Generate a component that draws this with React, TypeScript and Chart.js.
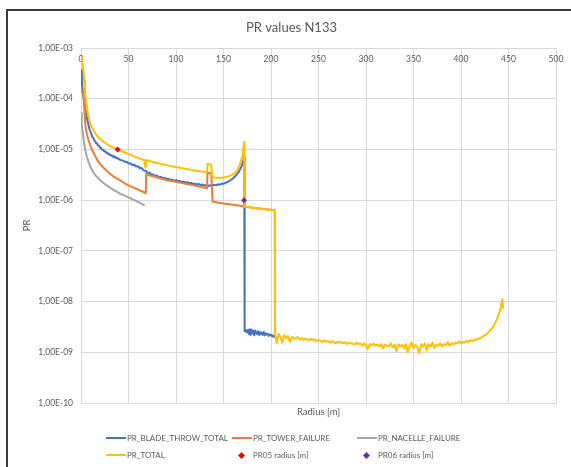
import React, { useEffect, useRef } from 'react';
import { Chart, registerables } from 'chart.js';

Chart.register(...registerables);

const FONT = 'Lato, "Open Sans", sans-serif';
const TEXT = '#595959';
const GRID = '#D9D9D9';

const chartTitle = 'PR values N133';
const xTitle = 'Radius [m]';
const yTitle = 'PR';

const xTickValues = [0, 50, 100, 150, 200, 250, 300, 350, 400, 450, 500];
const xTickLabels = ['0', '50', '100', '150', '200', '250', '300', '350', '400', '450', '500'];
const yTickValues = [1e-10, 1e-9, 1e-8, 1e-7, 1e-6, 1e-5, 1e-4, 1e-3];
const yTickLabels = ['1,00E-10', '1,00E-09', '1,00E-08', '1,00E-07', '1,00E-06', '1,00E-05', '1,00E-04', '1,00E-03'];

const seriesLabels = ['PR_BLADE_THROW_TOTAL', 'PR_TOWER_FAILURE', 'PR_NACELLE_FAILURE', 'PR_TOTAL', 'PR05 radius [m]', 'PR06 radius [m]'];
const seriesColors = ['#4472C4', '#ED7D31', '#A5A5A5', '#FFC000', '#FF0000', '#7030A0'];

const bladeX = [
  0, 1, 2, 3, 4, 5, 6, 7, 8, 9, 10, 11, 12, 13, 14, 15, 16, 17, 18, 19, 20,
  21, 22, 23, 24, 25, 26, 27, 28, 29, 30, 31, 32, 33, 34, 35, 36, 37, 38, 39, 40,
  42, 44, 46, 48, 50, 52, 54, 56, 58, 60, 62, 64, 66, 68, 70, 72, 74, 76, 78, 80,
  82, 84, 86, 88, 90, 92, 94, 96, 98, 100, 102, 104, 106, 108, 110, 112, 114, 116, 118, 120,
  122, 124, 126, 128, 130, 132, 134, 136, 138, 140, 142, 144, 146, 148, 150, 152, 154, 156, 158, 160,
  162, 164, 166, 168, 169, 170, 171, 171.8, 172,
  172.5, 173.5, 174.5, 175.5, 176.5, 177.5, 178.5, 179.5, 180.5, 181.5, 182.5, 183.5, 184.5, 185.5, 186.5, 187.5,
  188.5, 189.5, 190.5, 191.5, 192.5, 193.5, 194.5, 195.5, 196.5, 197.5, 198.5, 199.5, 200.5, 201.5, 202.5, 203.5,
  204,
];
const bladeY = [
  3.7e-4, 2.0e-4, 1.35e-4, 9.8e-5, 7.6e-5, 5.8e-5, 4.4e-5, 3.6e-5, 3.0e-5, 2.5e-5, 2.2e-5,
  2.0e-5, 1.75e-5, 1.68e-5, 1.5e-5, 1.45e-5, 1.32e-5, 1.3e-5, 1.2e-5, 1.18e-5, 1.08e-5,
  1.07e-5, 1.0e-5, 9.9e-6, 9.3e-6, 9.3e-6, 8.7e-6, 8.8e-6, 8.2e-6, 8.3e-6, 7.8e-6,
  7.9e-6, 7.5e-6, 7.6e-6, 7.1e-6, 7.3e-6, 6.9e-6, 7.0e-6, 6.6e-6, 6.7e-6, 6.4e-6,
  6.15e-6, 6.05e-6, 5.7e-6, 5.7e-6, 5.3e-6, 5.35e-6, 4.95e-6, 5.0e-6, 4.6e-6, 4.65e-6,
  4.25e-6, 4.3e-6, 3.85e-6, 3.8e-6, 3.45e-6, 3.5e-6, 3.2e-6, 3.2e-6, 2.98e-6, 3.05e-6,
  2.8e-6, 2.88e-6, 2.68e-6, 2.75e-6, 2.58e-6, 2.65e-6, 2.5e-6, 2.55e-6, 2.42e-6, 2.48e-6,
  2.35e-6, 2.4e-6, 2.27e-6, 2.33e-6, 2.2e-6, 2.26e-6, 2.13e-6, 2.2e-6, 2.07e-6, 2.13e-6,
  2.02e-6, 2.08e-6, 1.97e-6, 2.03e-6, 1.93e-6, 1.99e-6, 1.9e-6, 1.97e-6, 1.92e-6, 2.0e-6,
  1.96e-6, 2.05e-6, 2.02e-6, 2.1e-6, 2.1e-6, 2.2e-6, 2.25e-6, 2.38e-6, 2.52e-6, 2.68e-6,
  2.92e-6, 3.2e-6, 3.6e-6, 4.2e-6, 4.7e-6, 5.3e-6, 6.2e-6, 7.0e-6, 2.7e-9,
  2.6e-9, 2.7e-9, 2.5e-9, 2.75e-9, 2.3e-9, 2.85e-9, 2.2e-9, 2.8e-9, 2.35e-9, 2.65e-9, 2.15e-9, 2.7e-9, 2.4e-9, 2.3e-9, 2.6e-9, 2.2e-9,
  2.5e-9, 2.3e-9, 2.45e-9, 2.2e-9, 2.5e-9, 2.15e-9, 2.35e-9, 2.25e-9, 2.3e-9, 2.1e-9, 2.25e-9, 2.15e-9, 2.2e-9, 2.05e-9, 2.15e-9, 2.0e-9,
  2.1e-9,
];

const towerX = [
  0, 1, 2, 2.6, 3.2, 4.2, 5, 6, 7.5, 9.5, 12, 14, 17, 20, 24, 27, 30, 34, 38, 42,
  47, 51.6, 56, 60, 64, 67.4, 68.2, 68.6, 72, 76, 83, 90, 97, 104, 110, 116, 122, 128, 132.6, 133.2,
  137.2, 138.4, 145, 150, 160, 168, 175, 185, 195, 203.8,
];
const towerY = [
  1.4e-4, 1.38e-4, 1.32e-4, 1.25e-4, 7.5e-5, 3.6e-5, 2.7e-5, 2.1e-5, 1.6e-5, 1.25e-5,
  9.5e-6, 8.0e-6, 6.3e-6, 5.2e-6, 4.3e-6, 3.8e-6, 3.4e-6, 2.95e-6, 2.65e-6, 2.4e-6,
  2.1e-6, 1.88e-6, 1.75e-6, 1.62e-6, 1.5e-6, 1.4e-6, 1.38e-6, 3.3e-6, 3.1e-6, 2.95e-6,
  2.7e-6, 2.5e-6, 2.35e-6, 2.22e-6, 2.1e-6, 2.0e-6, 1.9e-6, 1.8e-6, 1.72e-6, 3.5e-6,
  3.35e-6, 9.4e-7, 8.9e-7, 8.6e-7, 8.1e-7, 7.75e-7, 7.3e-7, 6.95e-7, 6.6e-7, 6.3e-7,
];

const nacelleX = [
  0, 0.5, 1, 2, 3, 4.2, 5, 6, 8, 9.5, 12, 14, 17, 20, 24, 27, 30, 34, 38, 42,
  47, 51.6, 56, 60, 64, 67,
];
const nacelleY = [
  5.2e-5, 4.0e-5, 3.2e-5, 2.1e-5, 1.45e-5, 1.05e-5, 8.8e-6, 7.4e-6, 5.6e-6, 4.7e-6,
  3.8e-6, 3.3e-6, 2.85e-6, 2.5e-6, 2.15e-6, 1.95e-6, 1.8e-6, 1.6e-6, 1.45e-6, 1.32e-6,
  1.2e-6, 1.1e-6, 1.0e-6, 9.2e-7, 8.4e-7, 7.8e-7,
];

const totalX = [
  0, 1, 2, 2.6, 3.3, 4.2, 5, 6, 7, 7.7, 9, 10.5, 13, 16, 20, 24, 28, 32, 38.6, 44,
  51.6, 56, 60, 64, 66.8, 67.3, 68.2, 68.6, 72, 77, 83, 90, 97, 104, 110, 116, 122, 128, 132.6, 133.2,
  135, 136.8, 137.4, 138.4, 142, 146, 150, 154, 157, 160, 162, 164, 165.6, 167, 168.3, 169.5, 170.5, 171.2, 171.6, 172.1,
  180, 190, 203.8, 204.2,
  206, 208, 210, 212, 214, 216, 218, 220, 222, 224, 226, 228, 230, 232, 234, 236, 238, 240, 242, 244,
  246, 248, 250, 252, 254, 256, 258, 260, 262, 264, 266, 268, 270, 272, 274, 276, 278, 280, 282, 284,
  286, 288, 290, 292, 294, 296, 298, 300, 302, 304, 306, 308, 310, 312, 314, 316, 318, 320, 322, 324,
  326, 328, 330, 332, 334, 336, 338, 340, 342, 344, 346, 348, 350, 352, 354, 356, 358, 360, 362, 364,
  366, 368, 370, 372, 374, 376, 378, 380, 382, 384, 386, 388, 390, 392, 394, 396, 398, 400, 402, 404,
  406, 408, 410, 412, 414, 416, 418, 420, 422, 424, 426, 428, 430, 432, 434, 436, 438, 440, 442, 443.5,
  444.5,
];
const totalY = [
  6.5e-4, 5.5e-4, 4.3e-4, 3.6e-4, 2.3e-4, 1.35e-4, 1.0e-4, 7.5e-5, 5.6e-5, 4.6e-5,
  3.7e-5, 3.0e-5, 2.4e-5, 1.95e-5, 1.6e-5, 1.4e-5, 1.25e-5, 1.14e-5, 1.0e-5, 9.0e-6,
  7.9e-6, 7.3e-6, 6.8e-6, 6.4e-6, 6.1e-6, 4.7e-6, 4.5e-6, 6.2e-6, 5.9e-6, 5.6e-6,
  5.25e-6, 4.9e-6, 4.6e-6, 4.35e-6, 4.15e-6, 3.95e-6, 3.8e-6, 3.65e-6, 3.55e-6, 5.2e-6,
  5.1e-6, 5.0e-6, 4.2e-6, 2.85e-6, 2.75e-6, 2.75e-6, 2.8e-6, 2.9e-6, 3.05e-6, 3.25e-6,
  3.45e-6, 3.8e-6, 4.3e-6, 4.9e-6, 5.8e-6, 7.2e-6, 9.0e-6, 1.15e-5, 1.4e-5, 7.45e-7,
  7.15e-7, 6.8e-7, 6.35e-7, 2.4e-9,
  1.5e-9, 2.3e-9, 2.0e-9, 1.55e-9, 2.2e-9, 1.9e-9, 2.1e-9, 1.6e-9, 2.0e-9, 1.95e-9,
  1.85e-9, 2.0e-9, 1.8e-9, 1.9e-9, 1.75e-9, 1.85e-9, 1.8e-9, 1.7e-9, 1.85e-9, 1.75e-9,
  1.8e-9, 1.65e-9, 1.75e-9, 1.7e-9, 1.6e-9, 1.72e-9, 1.62e-9, 1.68e-9, 1.55e-9, 1.65e-9,
  1.6e-9, 1.5e-9, 1.62e-9, 1.55e-9, 1.6e-9, 1.5e-9, 1.58e-9, 1.45e-9, 1.55e-9, 1.5e-9,
  1.48e-9, 1.42e-9, 1.55e-9, 1.45e-9, 1.5e-9, 1.35e-9, 1.5e-9, 1.4e-9, 1.15e-9, 1.45e-9,
  1.38e-9, 1.5e-9, 1.35e-9, 1.42e-9, 1.3e-9, 1.45e-9, 1.2e-9, 1.4e-9, 1.35e-9, 1.3e-9,
  1.5e-9, 1.25e-9, 1.4e-9, 1.05e-9, 1.45e-9, 1.3e-9, 1.4e-9, 1.2e-9, 1.45e-9, 1.0e-9,
  1.35e-9, 1.55e-9, 1.2e-9, 1.4e-9, 1.25e-9, 0.95e-9, 1.45e-9, 1.3e-9, 1.5e-9, 1.1e-9,
  1.45e-9, 1.3e-9, 1.55e-9, 1.2e-9, 1.4e-9, 1.35e-9, 1.5e-9, 1.3e-9, 1.45e-9, 1.4e-9,
  1.6e-9, 1.35e-9, 1.5e-9, 1.45e-9, 1.55e-9, 1.5e-9, 1.65e-9, 1.5e-9, 1.6e-9, 1.55e-9,
  1.7e-9, 1.6e-9, 1.75e-9, 1.65e-9, 1.8e-9, 1.75e-9, 1.85e-9, 1.9e-9, 2.0e-9, 2.1e-9,
  2.2e-9, 2.4e-9, 2.6e-9, 2.9e-9, 3.2e-9, 3.8e-9, 4.6e-9, 5.8e-9, 8.0e-9, 1.1e-8,
  7.2e-9,
];

const pr05X = [38.6];
const pr05Y = [1e-5];
const pr06X = [171.6];
const pr06Y = [1e-6];

const toPoints = (xs: number[], ys: number[]) => xs.map((x, i) => ({ x, y: ys[i] }));

const topTickLabels = {
  id: 'topTickLabels',
  beforeDatasetsDraw(chart: any) {
    const { ctx, chartArea } = chart;
    const xs = chart.scales.x;
    ctx.save();
    ctx.font = `8.5px ${FONT}`;
    ctx.fillStyle = TEXT;
    ctx.textAlign = 'center';
    ctx.textBaseline = 'middle';
    xTickValues.forEach((v, i) => {
      ctx.fillText(xTickLabels[i], xs.getPixelForValue(v), chartArea.top + 11.5);
    });
    ctx.restore();
  },
};

const legendSlots = [
  { x: 106, y: 438 },
  { x: 232, y: 438 },
  { x: 357, y: 438 },
  { x: 106, y: 455 },
  { x: 232, y: 455 },
  { x: 357, y: 455 },
];

function Legend() {
  return (
    <>
      {seriesLabels.map((label, i) => {
        const slot = legendSlots[i];
        const isMarker = i >= 4;
        return (
          <div key={label}>
            {isMarker ? (
              <div
                style={{
                  position: 'absolute',
                  left: slot.x + 9.5 - 2.5,
                  top: slot.y - 2.5,
                  width: 5,
                  height: 5,
                  background: seriesColors[i],
                  transform: 'rotate(45deg)',
                }}
              />
            ) : (
              <div
                style={{
                  position: 'absolute',
                  left: slot.x,
                  top: slot.y - 1,
                  width: 20,
                  height: 2,
                  background: seriesColors[i],
                }}
              />
            )}
            <div
              style={{
                position: 'absolute',
                left: slot.x + 21,
                top: slot.y - 6,
                height: 12,
                lineHeight: '12px',
                fontFamily: FONT,
                fontSize: 8,
                color: TEXT,
                whiteSpace: 'nowrap',
              }}
            >
              {label}
            </div>
          </div>
        );
      })}
    </>
  );
}

export default function App() {
  const ref = useRef<HTMLCanvasElement>(null);

  useEffect(() => {
    const canvas = ref.current;
    if (!canvas) return;
    const lineSet = (i: number, xs: number[], ys: number[], order: number) => ({
      label: seriesLabels[i],
      data: toPoints(xs, ys),
      showLine: true,
      borderColor: seriesColors[i],
      backgroundColor: seriesColors[i],
      borderWidth: 2,
      borderJoinStyle: 'round' as const,
      pointRadius: 0,
      pointHoverRadius: 0,
      tension: 0,
      order,
    });
    const markerSet = (i: number, xs: number[], ys: number[], order: number) => ({
      label: seriesLabels[i],
      data: toPoints(xs, ys),
      showLine: false,
      borderColor: seriesColors[i],
      backgroundColor: seriesColors[i],
      pointStyle: 'rectRot' as const,
      pointRadius: 3,
      pointBorderWidth: 0,
      order,
    });

    const chart = new Chart(canvas, {
      type: 'scatter',
      data: {
        datasets: [
          lineSet(0, bladeX, bladeY, 6),
          lineSet(1, towerX, towerY, 5),
          lineSet(2, nacelleX, nacelleY, 4),
          lineSet(3, totalX, totalY, 3),
          markerSet(4, pr05X, pr05Y, 2),
          markerSet(5, pr06X, pr06Y, 1),
        ] as any,
      },
      options: {
        animation: false,
        responsive: false,
        devicePixelRatio: 1,
        events: [],
        layout: { padding: { left: 27, right: 15, top: 0, bottom: 0 } },
        plugins: {
          legend: { display: false },
          tooltip: { enabled: false },
          title: {
            display: true,
            text: chartTitle,
            color: TEXT,
            font: { family: FONT, size: 13, weight: 'normal' },
            padding: { top: 19.7, bottom: 12.7 },
          },
        },
        scales: {
          x: {
            type: 'linear',
            position: 'bottom',
            min: 0,
            max: 500,
            ticks: { display: false, stepSize: 50 },
            grid: { color: GRID, drawTicks: false, lineWidth: 1 },
            border: { color: GRID, width: 1 },
            afterFit: (s: any) => {
              s.height = 64;
            },
            title: {
              display: true,
              text: xTitle,
              color: TEXT,
              font: { family: FONT, size: 9.5 },
              padding: { top: 0, bottom: 49.8 },
            },
          },
          y: {
            type: 'logarithmic',
            position: 'left',
            min: 1e-10,
            max: 1e-3,
            afterBuildTicks: (s: any) => {
              s.ticks = yTickValues.map((v) => ({ value: v }));
            },
            afterFit: (s: any) => {
              s.width = 54;
            },
            ticks: {
              color: TEXT,
              font: { family: FONT, size: 8.5 },
              padding: 8,
              autoSkip: false,
              callback: (v: any) => {
                const idx = yTickValues.findIndex((t) => Math.abs(Math.log10(t) - Math.log10(Number(v))) < 1e-6);
                return idx >= 0 ? yTickLabels[idx] : '';
              },
            },
            grid: { color: GRID, drawTicks: false, lineWidth: 1 },
            border: { color: GRID, width: 1 },
            title: {
              display: true,
              text: yTitle,
              color: TEXT,
              font: { family: FONT, size: 9.5 },
              padding: { top: -5.7, bottom: 0 },
            },
          },
        },
      } as any,
      plugins: [topTickLabels],
    });
    return () => chart.destroy();
  }, []);

  return (
    <div style={{ position: 'fixed', left: 0, top: 0, width: 571, height: 467, overflow: 'hidden', background: '#fff' }}>
      <canvas ref={ref} width={571} height={467} style={{ position: 'absolute', left: 0, top: 0, width: 571, height: 467 }} />
      <div
        style={{
          position: 'absolute',
          left: 6,
          top: 9,
          width: 640,
          height: 520,
          borderLeft: '2px solid #3a3a3a',
          borderTop: '2px solid #3a3a3a',
          pointerEvents: 'none',
        }}
      />
      <Legend />
    </div>
  );
}
